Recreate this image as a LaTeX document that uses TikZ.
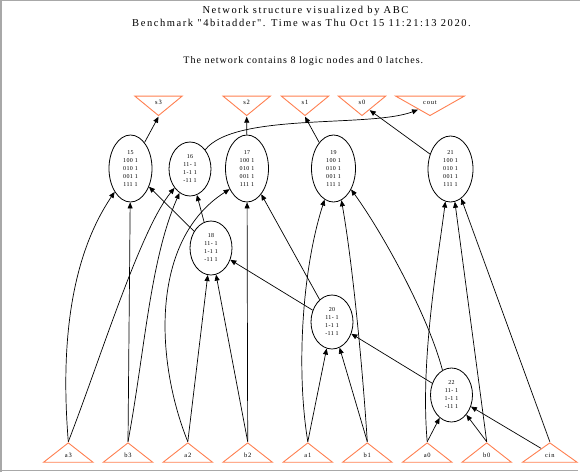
\documentclass[tikz,border=0pt]{standalone}
\usepackage{fontspec}
\setmainfont{Liberation Serif}
\newfontfamily\ttlfont[LetterSpace=15]{Liberation Serif}
\newfontfamily\subfont[LetterSpace=10]{Liberation Serif}
\newfontfamily\lblfont[LetterSpace=12]{Liberation Serif}
\newfontfamily\cellfont[LetterSpace=6]{Liberation Serif}
\usetikzlibrary{shapes.geometric,arrows.meta,calc}
\definecolor{coral}{HTML}{FF7F50}
\definecolor{framegray}{HTML}{A8A8A8}
\begin{document}
\begin{tikzpicture}[x=1pt,y=1pt,
  logic/.style={draw, ellipse, line width=0.8pt, inner sep=0pt, align=center,
    font=\cellfont\fontsize{6}{8}\selectfont},
  big/.style={minimum width=43pt, minimum height=67pt},
  small/.style={minimum width=42pt, minimum height=54pt},
  tri/.style={draw=coral, line width=0.9pt, isosceles triangle,
    isosceles triangle stretches, inner sep=0pt, anchor=apex},
  inp/.style={tri, shape border rotate=90, minimum width=49.5pt, minimum height=19.4pt},
  outp/.style={tri, shape border rotate=270, minimum width=47.3pt, minimum height=19.4pt},
  lbl/.style={font=\lblfont\fontsize{6.5}{7}\selectfont, inner sep=0pt},
  arr/.style={line width=0.7pt, -{Triangle[length=6pt,width=5pt]}},
  ttl/.style={anchor=base, inner sep=0pt}
]
\useasboundingbox (0,0) rectangle (580,472);
% frame
\draw[framegray, line width=1.5pt] (0.75,0) -- (0.75,472);
\draw[framegray, line width=1.2pt] (0,471.4) -- (580,471.4);
\draw[framegray, line width=1.2pt] (0,1.3) -- (578,1.3);
% titles
\node[ttl, font=\ttlfont\fontsize{10.5}{12}\selectfont] (t1) at (305.5,458.5) {Network structure visualized by ABC};
\node[ttl, font=\ttlfont\fontsize{10.5}{12}\selectfont] (t2) at (301.5,445.5) {Benchmark "4bitadder". Time was Thu Oct 15 11:21:13 2020.};
\node[ttl, font=\subfont\fontsize{10}{12}\selectfont] (t3) at (303.3,408.5) {The network contains 8 logic nodes and 0 latches.};
% outputs
\node[outp] (s3) at (158.5,355.3) {};
\node[outp] (s2) at (246.7,355.3) {};
\node[outp] (s1) at (305,355.3) {};
\node[outp] (s0) at (362,355.3) {};
\node[outp, minimum width=68.6pt] (cout) at (430,355.3) {};
\foreach \n in {s3,s2,s1,s0,cout}
  \node[lbl] (\n t) at ($(\n.apex)!0.667!(\n.lower side)$) {\n};
% inputs
\node[inp] (a3) at (68.3,30.3) {};
\node[inp] (b3) at (128,30.3) {};
\node[inp] (a2) at (187.8,30.3) {};
\node[inp] (b2) at (247.7,30.3) {};
\node[inp] (a1) at (307.8,30.3) {};
\node[inp] (b1) at (367.3,30.3) {};
\node[inp] (a0) at (427.2,30.3) {};
\node[inp] (b0) at (486.7,30.3) {};
\node[inp, minimum width=54.6pt] (cin) at (549.8,30.3) {};
\foreach \n in {a3,b3,a2,b2,a1,b1,a0,b0,cin}
  \node[lbl] (\n t) at ($(\n.apex)!0.667!(\n.lower side)$) {\n};
% logic nodes
\node[logic, big] (n15) at (130.5,303.5) {15\\100 1\\010 1\\001 1\\111 1};
\node[logic, small] (n16) at (190,303) {16\\11- 1\\1-1 1\\-11 1};
\node[logic, big] (n17) at (247,303.5) {17\\100 1\\010 1\\001 1\\111 1};
\node[logic, small] (n18) at (211,224) {18\\11- 1\\1-1 1\\-11 1};
\node[logic, big, minimum width=44pt] (n19) at (333.5,303.5) {19\\100 1\\010 1\\001 1\\111 1};
\node[logic, small] (n20) at (332,150) {20\\11- 1\\1-1 1\\-11 1};
\node[logic, big, minimum width=45pt, minimum height=66pt] (n21) at (450.5,303) {21\\100 1\\010 1\\001 1\\111 1};
\node[logic, small] (n22) at (451.5,77) {22\\11- 1\\1-1 1\\-11 1};
% edges to outputs
\draw[arr] (n15) -- (s3.apex);
\draw[arr] (n17) -- (s2.apex);
\draw[arr] (n19) -- (s1.apex);
\draw[arr] (n21) -- (s0);
\draw[arr] (n16) .. controls (235,360) and (370,344) .. (cout);
% node 15
\draw[arr] (b3.apex) -- (n15);
\draw[arr] (a3.apex) .. controls (60,132) and (72,217) .. (n15);
\draw[arr] (n18) -- (n15);
% node 16
\draw[arr] (a3.apex) .. controls (100,112) and (140,242) .. (n16);
\draw[arr] (b3.apex) .. controls (145,122) and (150,212) .. (n16);
\draw[arr] (n18) -- (n16);
% node 17
\draw[arr] (a2.apex) .. controls (155,112) and (150,232) .. (n17.230);
\draw[arr] (b2.apex) -- (n17);
\draw[arr] (n20) -- (n17);
% node 18
\draw[arr] (a2.apex) -- (n18);
\draw[arr] (b2.apex) -- (n18);
\draw[arr] (n20) -- (n18);
% node 19
\draw[arr] (a1.apex) .. controls (296,102) and (302,202) .. (n19.254);
\draw[arr] (b1.apex) .. controls (362,112) and (352,212) .. (n19.284);
\draw[arr] (n22.110) .. controls (428,157) and (382,240) .. (n19.310);
% node 20
\draw[arr] (a1.apex) -- (n20);
\draw[arr] (b1.apex) -- (n20);
\draw[arr] (n22) -- (n20);
% node 21
\draw[arr] (a0.apex) .. controls (420,112) and (438,212) .. (n21.261);
\draw[arr] (b0.apex) -- (n21);
\draw[arr] (cin.apex) -- (n21);
% node 22
\draw[arr] (a0.apex) -- (n22);
\draw[arr] (b0.apex) -- (n22);
\draw[arr] (cin) -- (n22);
\end{tikzpicture}
\end{document}
